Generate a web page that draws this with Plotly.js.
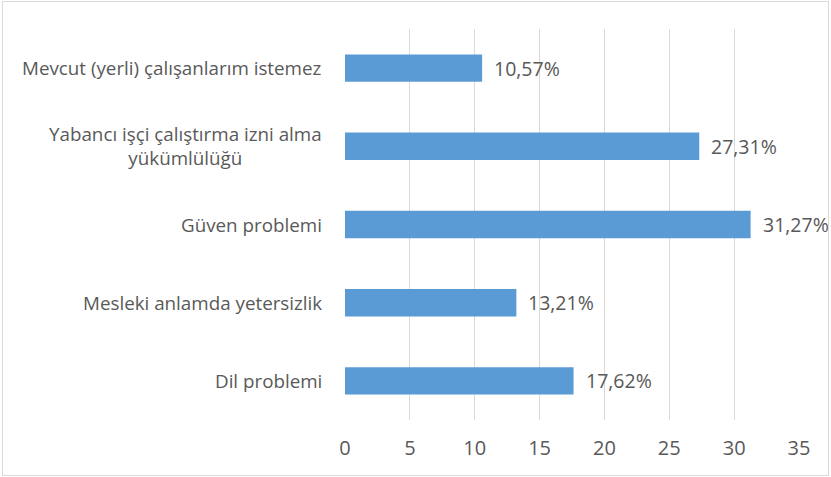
<!DOCTYPE html>
<html>
<head>
<meta charset="utf-8">
<script src="https://cdn.plot.ly/plotly-3.0.1.min.js"></script>
<style>
  body { margin: 0; padding: 0; background: #fff; }
  #wrap { position: relative; width: 831px; height: 477px; }
  #chart { position: absolute; left: 0; top: 0; width: 831px; height: 477px; }
  #frame { position: absolute; left: 2px; top: 1px; width: 825px; height: 473px; border: 1px solid #d9d9d9; pointer-events: none; }
</style>
</head>
<body>
<div id="wrap"><div id="chart"></div><div id="frame"></div></div>
<script>
const categories = [
  "Mevcut (yerli) çalışanlarım istemez",
  "Yabancı işçi çalıştırma izni alma<br>yükümlülüğü",
  "Güven problemi",
  "Mesleki anlamda yetersizlik",
  "Dil problemi"
];
const values = [10.57, 27.31, 31.27, 13.21, 17.62];
const xTicks = [0, 5, 10, 15, 20, 25, 30, 35];

const FONT = "'Open Sans', sans-serif";
const GREY = "#595959";

const trace = {
  type: "bar",
  orientation: "h",
  x: values,
  y: categories,
  marker: { color: "#5b9bd5" },
  hoverinfo: "none"
};

const catAnn = categories.map((c) => ({
  xref: "paper", yref: "y",
  x: 0, y: c,
  xshift: -21,
  xanchor: "right", yanchor: "middle",
  align: "center",
  text: c,
  showarrow: false,
  font: { family: FONT, size: 18.8, color: GREY }
}));

const valAnn = categories.map((c, i) => ({
  xref: "x", yref: "y",
  x: values[i], y: c,
  xshift: 10,
  xanchor: "left", yanchor: "middle",
  text: values[i].toFixed(2).replace(".", ",") + "%",
  showarrow: false,
  font: { family: FONT, size: 19.5, color: GREY }
}));

const layout = {
  width: 831, height: 477,
  margin: { l: 344.5, r: 31.5, t: 29, b: 57 },
  paper_bgcolor: "#fff",
  plot_bgcolor: "#fff",
  showlegend: false,
  bargap: 0.65,
  xaxis: {
    range: [0, 35],
    tickvals: xTicks,
    ticktext: xTicks.map(String),
    showgrid: true,
    gridcolor: "#d9d9d9",
    gridwidth: 1,
    zeroline: false,
    showline: false,
    ticks: "",
    ticklen: 0,
    ticklabelstandoff: 14,
    tickfont: { family: FONT, size: 20, color: GREY },
    fixedrange: true
  },
  yaxis: {
    autorange: "reversed",
    showticklabels: false,
    showgrid: false,
    zeroline: false,
    showline: false,
    ticks: "",
    fixedrange: true
  },
  annotations: catAnn.concat(valAnn)
};

Plotly.newPlot("chart", [trace], layout, { displayModeBar: false, staticPlot: true });
</script>
</body>
</html>
